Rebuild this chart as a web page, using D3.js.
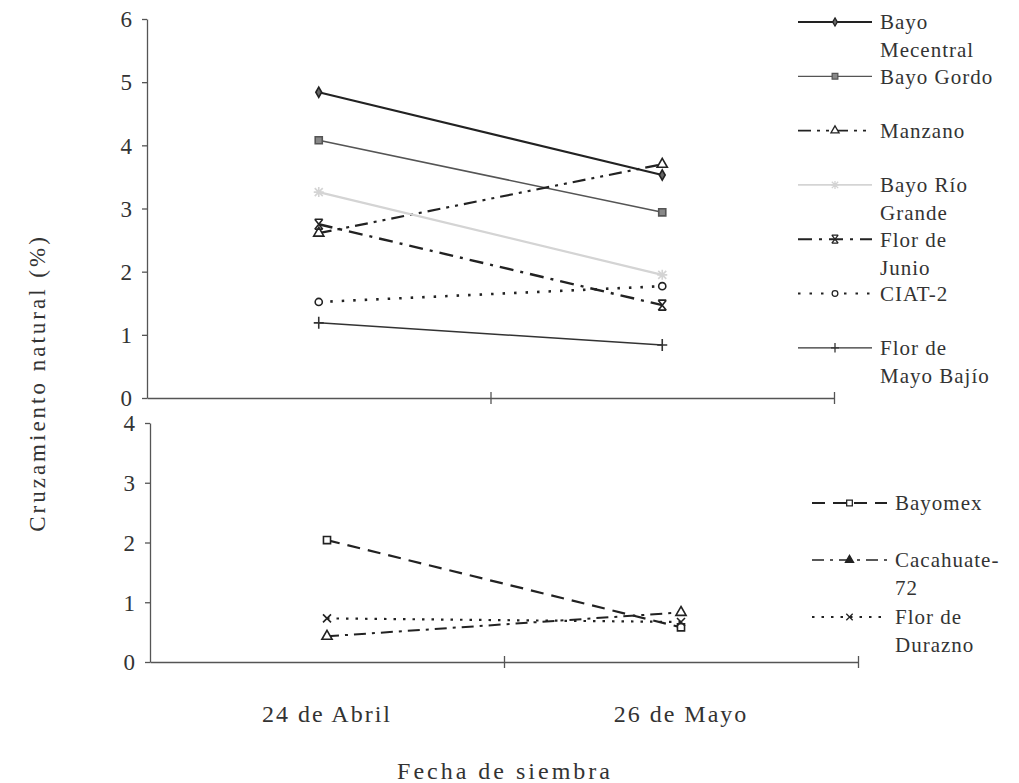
<!DOCTYPE html>
<html lang="es">
<head>
    <meta charset="UTF-8">
    <title>Cruzamiento natural</title>
    <script src="https://d3js.org/d3.v7.min.js"></script>
    <style>
        body {
            margin: 0;
            background-color: white;
        }
        text {
            font-family: "Liberation Serif", "DejaVu Serif", serif;
            fill: #333;
        }
        .axis path, .axis line {
            stroke: #555;
            stroke-width: 1.3;
        }
        .axis text {
            font-size: 23px;
        }
        .legend text {
            font-size: 21px;
            letter-spacing: 1px;
        }
    </style>
</head>
<body>
<script>
    // categories (fecha de siembra)
    const dates = ["24 de Abril", "26 de Mayo"];

    // upper panel series
    const bayoMecentral = [4.84, 3.53];
    const bayoGordo = [4.08, 2.94];
    const manzano = [2.61, 3.70];
    const bayoRioGrande = [3.26, 1.95];
    const florDeJunio = [2.75, 1.47];
    const ciat2 = [1.52, 1.77];
    const florDeMayoBajio = [1.19, 0.84];

    // lower panel series
    const bayomex = [2.04, 0.58];
    const cacahuate72 = [0.43, 0.83];
    const florDeDurazno = [0.73, 0.67];

    const topTicks = [0, 1, 2, 3, 4, 5, 6];
    const bottomTicks = [0, 1, 2, 3, 4];

    // marker shapes
    const sym = {
        diamond: d3.symbol(d3.symbolDiamond, 30)(),
        square: d3.symbol(d3.symbolSquare, 50)(),
        triangle: d3.symbol(d3.symbolTriangle, 45)(),
        circle: d3.symbol(d3.symbolCircle, 40)(),
        star: "M-4,-4L4,4M4,-4L-4,4M0,-5V5M-5,0H5",
        asterisk: "M-4,-5L4,5M4,-5L-4,5M-4,-5H4M-4,5H4",
        plus: "M0,-6V6M-5,0H5",
        cross: "M-4,-4L4,4M4,-4L-4,4"
    };

    const topData = [
        {name: ["Bayo", "Mecentral"], values: bayoMecentral, color: "#222", width: 2.2, dash: null, marker: "diamond", fill: "#666"},
        {name: ["Bayo Gordo"], values: bayoGordo, color: "#555", width: 1.6, dash: null, marker: "square", fill: "#888"},
        {name: ["Manzano"], values: manzano, color: "#222", width: 2.2, dash: "13,6,3,6,3,6", marker: "triangle", fill: "white"},
        {name: ["Bayo Río", "Grande"], values: bayoRioGrande, color: "#d4d4d4", width: 2.2, dash: null, marker: "star", fill: "none"},
        {name: ["Flor de", "Junio"], values: florDeJunio, color: "#222", width: 2.4, dash: "14,7,3,7", marker: "asterisk", fill: "none"},
        {name: ["CIAT-2"], values: ciat2, color: "#222", width: 2.6, dash: "2.5,9", marker: "circle", fill: "white"},
        {name: ["Flor de", "Mayo Bajío"], values: florDeMayoBajio, color: "#333", width: 1.5, dash: null, marker: "plus", fill: "none"}
    ];

    const bottomData = [
        {name: ["Bayomex"], values: bayomex, color: "#222", width: 2.2, dash: "13,8", marker: "square", fill: "white", legendFill: "white"},
        {name: ["Cacahuate-", "72"], values: cacahuate72, color: "#222", width: 2, dash: "12,6,3,6", marker: "triangle", fill: "white", legendFill: "#222"},
        {name: ["Flor de", "Durazno"], values: florDeDurazno, color: "#222", width: 2.2, dash: "2.5,7", marker: "cross", fill: "none", legendFill: "none"}
    ];

    const svg = d3.select("body")
        .append("svg")
        .attr("width", 1019)
        .attr("height", 783);

    function panel(series, ticks, yRange, xRange, legend) {
        const x = d3.scaleBand().domain(dates).range(xRange);
        const y = d3.scaleLinear().domain([0, d3.max(ticks)]).range(yRange);
        const edge = d3.scaleLinear().domain([0, dates.length]).range(xRange);

        const yAxis = svg.append("g")
            .attr("class", "axis")
            .attr("transform", `translate(${xRange[0]},0)`)
            .call(d3.axisLeft(y).tickValues(ticks).tickFormat(d3.format("d")).tickSize(5).tickSizeOuter(0).tickPadding(10));
        yAxis.selectAll("text").attr("dy", "0.34em");

        const xAxis = svg.append("g")
            .attr("class", "axis")
            .attr("transform", `translate(0,${yRange[0]})`)
            .call(d3.axisBottom(edge).tickValues([1, 2]).tickFormat("").tickSizeOuter(0));
        xAxis.selectAll(".tick line").attr("y1", -6).attr("y2", 6);

        const line = d3.line()
            .x((d, i) => x(dates[i]) + x.bandwidth() / 2)
            .y(d => y(d));

        series.forEach(s => {
            svg.append("path")
                .datum(s.values)
                .attr("d", line)
                .attr("fill", "none")
                .attr("stroke", s.color)
                .attr("stroke-width", s.width)
                .attr("stroke-dasharray", s.dash);

            svg.selectAll(null)
                .data(s.values)
                .enter().append("path")
                .attr("d", sym[s.marker])
                .attr("transform", (d, i) => `translate(${x(dates[i]) + x.bandwidth() / 2},${y(d)})`)
                .attr("fill", s.fill)
                .attr("stroke", s.color)
                .attr("stroke-width", 1.6);
        });

        // legend
        const lg = svg.append("g").attr("class", "legend");
        series.forEach((s, i) => {
            const ly = legend.y + i * legend.step;
            lg.append("line")
                .attr("x1", legend.x0).attr("x2", legend.x1)
                .attr("y1", ly).attr("y2", ly)
                .attr("stroke", s.color)
                .attr("stroke-width", s.width * 0.8)
                .attr("stroke-dasharray", s.dash);
            lg.append("path")
                .attr("d", sym[s.marker])
                .attr("transform", `translate(${(legend.x0 + legend.x1) / 2},${ly}) scale(0.8)`)
                .attr("fill", s.legendFill || s.fill)
                .attr("stroke", s.color)
                .attr("stroke-width", 1.6);
            s.name.forEach((t, j) => {
                lg.append("text")
                    .attr("x", legend.x1 + 8)
                    .attr("y", ly + j * 28)
                    .attr("dy", "0.35em")
                    .text(t);
            });
        });

        return x;
    }

    panel(topData, topTicks, [398, 19], [147, 834], {x0: 798, x1: 872, y: 22, step: 54.3});
    const xb = panel(bottomData, bottomTicks, [662, 423], [150, 858], {x0: 812, x1: 887, y: 503, step: 57});

    // category labels under the lower panel
    svg.selectAll(".cat")
        .data(dates)
        .enter().append("text")
        .attr("class", "cat")
        .attr("x", d => xb(d) + xb.bandwidth() / 2)
        .attr("y", 722)
        .attr("text-anchor", "middle")
        .style("font-size", "24px")
        .style("letter-spacing", "2px")
        .text(d => d);

    svg.append("text")
        .attr("x", 505)
        .attr("y", 779)
        .attr("text-anchor", "middle")
        .style("font-size", "24px")
        .style("letter-spacing", "3px")
        .text("Fecha de siembra");

    svg.append("text")
        .attr("transform", "translate(45,383) rotate(-90)")
        .attr("text-anchor", "middle")
        .style("font-size", "23px")
        .style("letter-spacing", "3px")
        .text("Cruzamiento natural (%)");
</script>
</body>
</html>
